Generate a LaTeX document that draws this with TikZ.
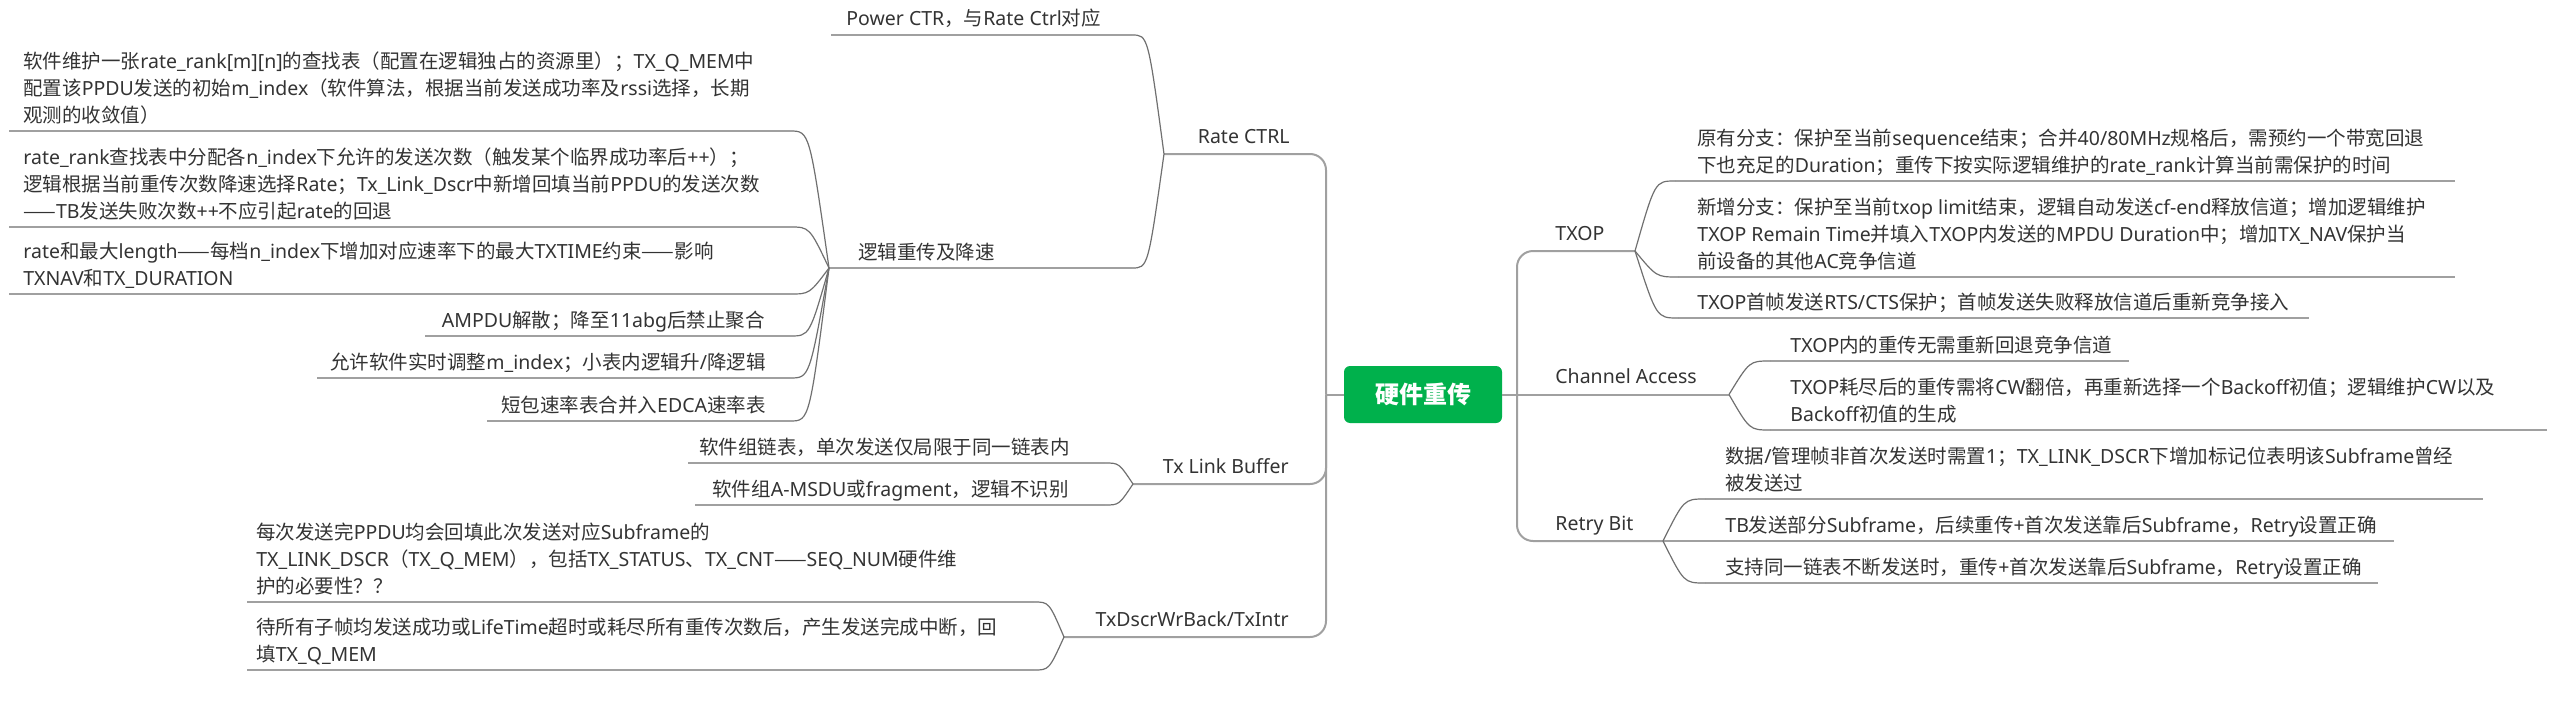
\documentclass[tikz,border=0pt]{standalone}
\usepackage{fontspec}
\setmainfont{Noto Sans}
\newfontfamily\cjkfont{Noto Sans CJK SC}
\newfontfamily\latfont{Noto Sans}
\usetikzlibrary{calc}
% --- switch automatically between Latin and CJK fonts ---
\XeTeXinterchartokenstate=1
\newXeTeXintercharclass\CJKcls
\makeatletter
\def\setcjkrange#1#2{\count@=#1\relax\loop\XeTeXcharclass\count@=\CJKcls\relax\ifnum\count@<#2\advance\count@\@ne\repeat}
\setcjkrange{"3000}{"303F}
\setcjkrange{"4E00}{"9FFF}
\setcjkrange{"FF00}{"FFEF}
\makeatother
\XeTeXcharclass"2014=\CJKcls
\XeTeXinterchartoks 0 \CJKcls = {\cjkfont}
\XeTeXinterchartoks 4095 \CJKcls = {\cjkfont}
\XeTeXinterchartoks \CJKcls 0 = {\latfont}
\XeTeXinterchartoks \CJKcls 4095 = {\latfont}
% --- colours ---
\definecolor{txt}{RGB}{51,51,51}
\definecolor{ulc}{RGB}{160,160,160}
\definecolor{cnc}{RGB}{112,112,112}
\definecolor{hubgreen}{RGB}{0,177,76}
\newcommand\mystrut{\rule[-4pt]{0pt}{13.5pt}}
\newcommand\LB{\\\mystrut}
\newcommand\tfont{\fontsize{9.75pt}{13.5pt}\selectfont}
\newcommand\fanconn[2]{\draw[conn] (#1) .. controls ($(#1|-#2)!0.5!(#2)$) .. (#2);}
\tikzset{
  topic/.style={inner sep=0pt, align=left, text=txt, font=\tfont, execute at begin node=\mystrut},
  uline/.style={draw=ulc, line width=1pt},
  conn/.style={draw=cnc, line width=0.6pt},
  trunk/.style={draw=ulc, line width=1pt, rounded corners=8pt},
  hub/.style={fill=hubgreen, rounded corners=3pt, minimum width=79pt, minimum height=28.5pt,
    inner sep=0pt, text=white, font=\fontsize{12pt}{14pt}\selectfont\bfseries},
}
\begin{document}
\begin{tikzpicture}[x=0.5pt,y=-0.5pt]
\useasboundingbox (0,0) rectangle (2566,712);

% ---------------- centre ----------------
\node[hub] (hub) at (1423,394.5) {硬件重传};
\coordinate (LT) at (1326,394.5);
\coordinate (RT) at (1517,394.5);

% ---------------- left level 1 ----------------
\coordinate (RCj) at (1164,154);
\coordinate (TLBj) at (1133,484);
\coordinate (TDWj) at (1064,637);
\node[topic,anchor=south east] (RC) at (1290,152) {Rate CTRL};
\node[topic,anchor=south east] (TLB) at (1289,482) {Tx Link Buffer};
\node[topic,anchor=south east] (TDW) at (1289,635) {TxDscrWrBack/TxIntr};
\draw[trunk] (hub.west) -- (LT);
\draw[trunk] (LT) |- (RCj);
\draw[trunk] (LT) |- (TLBj);
\draw[trunk] (LT) |- (TDWj);

% ---------------- Rate CTRL children ----------------
\coordinate (PWRa) at (831,35);  \coordinate (PWRb) at (1132,35);
\coordinate (LOGj) at (829,268); \coordinate (LOGb) at (1132,268);
\node[topic,anchor=south west] (PWR) at (846,34) {Power CTR，与Rate Ctrl对应};
\node[topic,anchor=south west] (LOG) at (858,268) {逻辑重传及降速};
\draw[uline] (PWRa) -- (PWRb);
\draw[uline] (LOGj) -- (LOGb);
\fanconn{RCj}{PWRb}
\fanconn{RCj}{LOGb}

% ---------------- 逻辑重传及降速 children ----------------
\coordinate (L1a) at (9,131);   \coordinate (L1b) at (790,131);
\coordinate (L2a) at (9,227);   \coordinate (L2b) at (790,227);
\coordinate (L3a) at (9,294);   \coordinate (L3b) at (790,294);
\coordinate (L4a) at (425,336); \coordinate (L4b) at (790,336);
\coordinate (L5a) at (317,378); \coordinate (L5b) at (790,378);
\coordinate (L6a) at (487,421); \coordinate (L6b) at (790,421);
\node[topic,anchor=south west] (L1) at (23,131) {软件维护一张rate\_rank[m][n]的查找表（配置在逻辑独占的资源里）；TX\_Q\_MEM中\LB 配置该PPDU发送的初始m\_index（软件算法，根据当前发送成功率及rssi选择，长期\LB 观测的收敛值）};
\node[topic,anchor=south west] (L2) at (23,227) {rate\_rank查找表中分配各n\_index下允许的发送次数（触发某个临界成功率后++）；\LB 逻辑根据当前重传次数降速选择Rate；Tx\_Link\_Dscr中新增回填当前PPDU的发送次数\LB ——TB发送失败次数++不应引起rate的回退};
\node[topic,anchor=south west] (L3) at (23,294) {rate和最大length——每档n\_index下增加对应速率下的最大TXTIME约束——影响\LB TXNAV和TX\_DURATION};
\node[topic,anchor=south east] (L4) at (765,336) {AMPDU解散；降至11abg后禁止聚合};
\node[topic,anchor=south east] (L5) at (766,378) {允许软件实时调整m\_index；小表内逻辑升/降逻辑};
\node[topic,anchor=south east] (L6) at (766,421) {短包速率表合并入EDCA速率表};
\foreach \n in {L1,L2,L3,L4,L5,L6}{\draw[uline] (\n a) -- (\n b);}
\fanconn{LOGj}{L1b}
\fanconn{LOGj}{L2b}
\fanconn{LOGj}{L3b}
\fanconn{LOGj}{L4b}
\fanconn{LOGj}{L5b}
\fanconn{LOGj}{L6b}

% ---------------- Tx Link Buffer children ----------------
\coordinate (T1a) at (688,463); \coordinate (T1b) at (1105,463);
\coordinate (T2a) at (695,505); \coordinate (T2b) at (1105,505);
\node[topic,anchor=south east] (T1) at (1070,463) {软件组链表，单次发送仅局限于同一链表内};
\node[topic,anchor=south east] (T2) at (1069,505) {软件组A-MSDU或fragment，逻辑不识别};
\draw[uline] (T1a) -- (T1b);
\draw[uline] (T2a) -- (T2b);
\fanconn{TLBj}{T1b}
\fanconn{TLBj}{T2b}

% ---------------- TxDscrWrBack children ----------------
\coordinate (D1a) at (247,602); \coordinate (D1b) at (1034,602);
\coordinate (D2a) at (247,670); \coordinate (D2b) at (1034,670);
\node[topic,anchor=south west] (D1) at (256,602) {每次发送完PPDU均会回填此次发送对应Subframe的\LB TX\_LINK\_DSCR（TX\_Q\_MEM），包括TX\_STATUS、TX\_CNT——SEQ\_NUM硬件维\LB 护的必要性？？};
\node[topic,anchor=south west] (D2) at (256,670) {待所有子帧均发送成功或LifeTime超时或耗尽所有重传次数后，产生发送完成中断，回\LB 填TX\_Q\_MEM};
\draw[uline] (D1a) -- (D1b);
\draw[uline] (D2a) -- (D2b);
\fanconn{TDWj}{D1b}
\fanconn{TDWj}{D2b}

% ---------------- right level 1 ----------------
\coordinate (TXj) at (1635,251);
\coordinate (CAj) at (1729,394.5);
\coordinate (RBj) at (1663,541);
\node[topic,anchor=south west] (TXOP) at (1555,249) {TXOP};
\node[topic,anchor=south west] (CA) at (1555,392) {Channel Access};
\node[topic,anchor=south west] (RB) at (1555,539) {Retry Bit};
\draw[trunk] (hub.east) -- (CAj);
\draw[trunk] (RT) |- (TXj);
\draw[trunk] (RT) |- (RBj);

% ---------------- TXOP children ----------------
\coordinate (X1a) at (1675,181); \coordinate (X1b) at (2455,181);
\coordinate (X2a) at (1678,277); \coordinate (X2b) at (2455,277);
\coordinate (X3a) at (1678,318); \coordinate (X3b) at (2309,318);
\node[topic,anchor=south west] (X1) at (1697,181) {原有分支：保护至当前sequence结束；合并40/80MHz规格后，需预约一个带宽回退\LB 下也充足的Duration；重传下按实际逻辑维护的rate\_rank计算当前需保护的时间};
\node[topic,anchor=south west] (X2) at (1697,277) {新增分支：保护至当前txop limit结束，逻辑自动发送cf-end释放信道；增加逻辑维护\LB TXOP Remain Time并填入TXOP内发送的MPDU Duration中；增加TX\_NAV保护当\LB 前设备的其他AC竞争信道};
\node[topic,anchor=south west] (X3) at (1697,318) {TXOP首帧发送RTS/CTS保护；首帧发送失败释放信道后重新竞争接入};
\foreach \n in {X1,X2,X3}{\draw[uline] (\n a) -- (\n b);}
\fanconn{TXj}{X1a}
\fanconn{TXj}{X2a}
\fanconn{TXj}{X3a}

% ---------------- Channel Access children ----------------
\coordinate (C1a) at (1770,361); \coordinate (C1b) at (2129,361);
\coordinate (C2a) at (1770,430); \coordinate (C2b) at (2547,430);
\node[topic,anchor=south west] (C1) at (1790,361) {TXOP内的重传无需重新回退竞争信道};
\node[topic,anchor=south west] (C2) at (1790,430) {TXOP耗尽后的重传需将CW翻倍，再重新选择一个Backoff初值；逻辑维护CW以及\LB Backoff初值的生成};
\draw[uline] (C1a) -- (C1b);
\draw[uline] (C2a) -- (C2b);
\fanconn{CAj}{C1a}
\fanconn{CAj}{C2a}

% ---------------- Retry Bit children ----------------
\coordinate (R1a) at (1705,499); \coordinate (R1b) at (2483,499);
\coordinate (R2a) at (1663,541); \coordinate (R2b) at (2394,541);
\coordinate (R3a) at (1705,583); \coordinate (R3b) at (2378,583);
\node[topic,anchor=south west] (R1) at (1725,499) {数据/管理帧非首次发送时需置1；TX\_LINK\_DSCR下增加标记位表明该Subframe曾经\LB 被发送过};
\node[topic,anchor=south west] (R2) at (1725,541) {TB发送部分Subframe，后续重传+首次发送靠后Subframe，Retry设置正确};
\node[topic,anchor=south west] (R3) at (1725,583) {支持同一链表不断发送时，重传+首次发送靠后Subframe，Retry设置正确};
\foreach \n in {R1,R2,R3}{\draw[uline] (\n a) -- (\n b);}
\fanconn{RBj}{R1a}
\fanconn{RBj}{R3a}
\end{tikzpicture}
\end{document}
